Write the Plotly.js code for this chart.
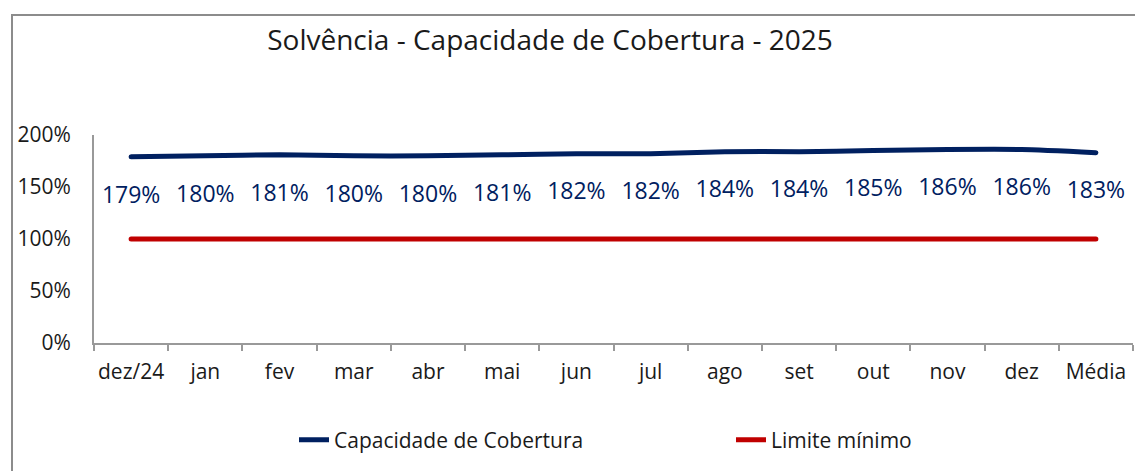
<!DOCTYPE html>
<html>
<head>
<meta charset="utf-8">
<script src="https://cdn.plot.ly/plotly-3.0.1.min.js"></script>
<style>
  html, body { margin: 0; padding: 0; background: #fff; }
  #wrap { position: relative; width: 1135px; height: 471px; overflow: hidden; }
  #chart { width: 1135px; height: 471px; }
  #frame { position: absolute; left: 11px; top: 14px; width: 1200px; height: 600px;
           border-left: 2px solid #8c8c8c; border-top: 2px solid #8c8c8c; pointer-events: none; }
  #chart .scatterlayer path.js-line { stroke-linecap: round; }
</style>
</head>
<body>
<div id="wrap">
  <div id="chart"></div>
  <div id="frame"></div>
</div>
<script>
const categories = ["dez/24","jan","fev","mar","abr","mai","jun","jul","ago","set","out","nov","dez","Média"];
const capacidade = [1.79,1.80,1.81,1.80,1.80,1.81,1.82,1.82,1.84,1.84,1.85,1.86,1.86,1.83];
const limite = [1.00,1.00,1.00,1.00,1.00,1.00,1.00,1.00,1.00,1.00,1.00,1.00,1.00,1.00];
const yTickVals = [0,0.5,1,1.5,2];
const yTickText = ["0%","50%","100%","150%","200%"];

const labels = capacidade.map(v => Math.round(v*100) + "%");

const traces = [
  {
    x: categories, y: capacidade, name: "Capacidade de Cobertura",
    type: "scatter", mode: "lines+markers+text", legend: "legend",
    line: {color: "#002060", width: 5, shape: "spline", smoothing: 0.6},
    marker: {size: 44, color: "rgba(0,0,0,0)"},
    text: labels, textposition: "bottom center",
    textfont: {family: "Open Sans", size: 23, color: "#002060"},
    hoverinfo: "x+y"
  },
  {
    x: categories, y: limite, name: "Limite mínimo",
    type: "scatter", mode: "lines", legend: "legend2",
    line: {color: "#C00000", width: 5},
    hoverinfo: "x+y"
  }
];

const legendFont = {family: "Open Sans", size: 21, color: "#1a1a1a"};

const layout = {
  width: 1135, height: 471,
  margin: {l: 94, r: 2, t: 135, b: 128},
  paper_bgcolor: "rgba(0,0,0,0)", plot_bgcolor: "rgba(0,0,0,0)",
  font: {family: "Open Sans", color: "#262626"},
  title: {
    text: "Solvência - Capacidade de Cobertura - 2025",
    font: {family: "Open Sans", size: 28, color: "#1a1a1a"},
    xref: "container", x: 550/1135, xanchor: "center",
    yref: "container", y: 1 - 40/471, yanchor: "middle"
  },
  xaxis: {
    type: "category", range: [-0.5, 13.5],
    showgrid: false, zeroline: false,
    showline: true, linecolor: "#999999", linewidth: 2,
    ticks: "outside", tickson: "boundaries", ticklen: 6, tickcolor: "#999999", tickwidth: 2,
    tickfont: {family: "Open Sans", size: 21, color: "#1a1a1a"},
    tickangle: 0,
    ticklabelstandoff: 9,
    fixedrange: true
  },
  yaxis: {
    range: [0, 2], showgrid: false, zeroline: false,
    showline: true, linecolor: "#999999", linewidth: 2,
    tickvals: yTickVals, ticktext: yTickText,
    ticks: "", tickfont: {family: "Open Sans", size: 21, color: "#1a1a1a"},
    ticklabelstandoff: 17,
    fixedrange: true
  },
  showlegend: true,
  legend: {
    orientation: "h", xref: "container", x: 294/1135, xanchor: "left",
    yref: "container", y: 1 - 440/471, yanchor: "middle",
    font: legendFont, bgcolor: "rgba(0,0,0,0)"
  },
  legend2: {
    orientation: "h", xref: "container", x: 731/1135, xanchor: "left",
    yref: "container", y: 1 - 440/471, yanchor: "middle",
    font: legendFont, bgcolor: "rgba(0,0,0,0)"
  }
};

Plotly.newPlot("chart", traces, layout, {displayModeBar: false, staticPlot: true});
</script>
</body>
</html>
